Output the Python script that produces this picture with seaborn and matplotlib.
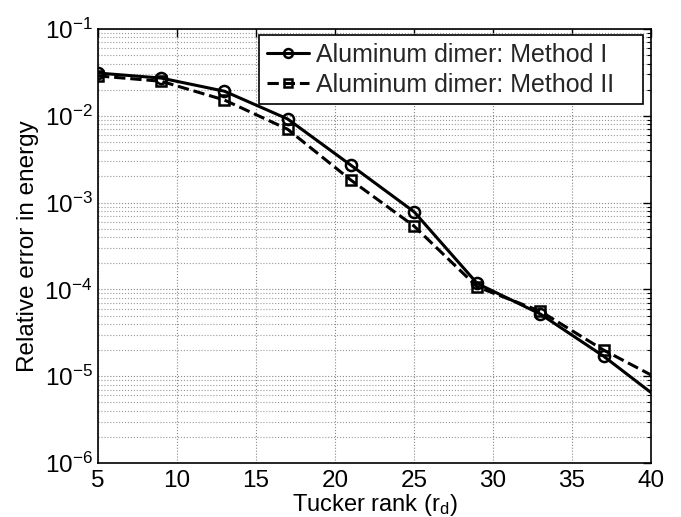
import numpy as np
import pandas as pd
import matplotlib
matplotlib.use("Agg")
import matplotlib.pyplot as plt
import matplotlib.ticker as mticker
import seaborn as sns

ranks = [5, 9, 13, 17, 21, 25, 29, 33, 37, 41]
method1 = [0.0311, 0.0272, 0.0192, 0.0092, 0.0027, 0.000785, 1.17e-4, 5.2e-5, 1.7e-5, 4.7e-6]
method2 = [0.0288, 0.0250, 0.0152, 0.0070, 0.00182, 0.000537, 1.07e-4, 5.6e-5, 2.0e-5, 8.3e-6]
labels = ["Aluminum dimer: Method I", "Aluminum dimer: Method II"]
xticks = [5, 10, 15, 20, 25, 30, 35, 40]
yticks = [1e-6, 1e-5, 1e-4, 1e-3, 1e-2, 1e-1]

sns.set_theme(style="white")
plt.rcParams['font.family'] = ['Liberation Sans', 'DejaVu Sans']
plt.rcParams['mathtext.fontset'] = 'custom'
plt.rcParams['mathtext.rm'] = 'Liberation Sans'
plt.rcParams['mathtext.it'] = 'Liberation Sans'
plt.rcParams['mathtext.default'] = 'regular'

df1 = pd.DataFrame({"rank": ranks, "err": method1})
df2 = pd.DataFrame({"rank": ranks, "err": method2})

fig = plt.figure(figsize=(6.81, 5.17), dpi=100)
ax = fig.add_axes([98/681, 1-463/517, (651-98)/681, (463-29)/517])

sns.lineplot(data=df1, x="rank", y="err", ax=ax, color="black", lw=2.2,
             marker="o", markersize=8, markerfacecolor="none",
             markeredgecolor="black", markeredgewidth=1.8, label=labels[0])
sns.lineplot(data=df2, x="rank", y="err", ax=ax, color="black", lw=2.2,
             marker="s", markersize=7, markerfacecolor="none",
             markeredgecolor="black", markeredgewidth=1.8,
             linestyle="--", dashes=(2.2, 1.6), label=labels[1])

ax.set_yscale("log")
ax.set_xlim(5, 40)
ax.set_ylim(1e-6, 1e-1)
ax.set_xticks(xticks)
ax.set_xticklabels([str(t) for t in xticks])
ax.set_yticks(yticks)
ax.set_yticklabels([r"$10^{%d}$" % int(np.log10(t)) for t in yticks])
ax.yaxis.set_minor_locator(mticker.LogLocator(base=10, subs=np.arange(2, 10), numticks=20))
ax.yaxis.set_minor_formatter(mticker.NullFormatter())

ax.tick_params(axis="both", which="both", direction="in", top=True, right=True,
               labelsize=17.5, colors="black")
ax.tick_params(axis="both", which="major", length=6, width=1)
ax.tick_params(axis="y", which="minor", length=3, width=0.8)
ax.tick_params(axis="x", pad=5)
ax.tick_params(axis="y", pad=4)

ax.grid(True, which="major", axis="both", linestyle=":", color="#888888", lw=0.8)
ax.grid(True, which="minor", axis="y", linestyle=":", color="#999999", lw=0.8)
for s in ax.spines.values():
    s.set_color("black")
    s.set_linewidth(1.2)

ax.set_xlabel(r"Tucker rank (r$_{d}$)", fontsize=17, labelpad=0, color="black")
ax.set_ylabel("Relative error in energy", fontsize=17.5, labelpad=4, color="black")

x0 = (259 - 98) / 553
w = (643 - 259) / 553
top = 1 - (35 - 29) / 434
leg = ax.legend(loc="upper left", fontsize=18, frameon=True, fancybox=False,
                edgecolor="black", framealpha=1, borderpad=0.3, handlelength=1.7,
                handletextpad=0.3, labelspacing=0.25, numpoints=1, borderaxespad=0,
                markerscale=0.8, mode="expand",
                bbox_to_anchor=(x0, top - 0.5, w, 0.5))
leg.get_frame().set_linewidth(1.2)

fig.savefig("out.png", dpi=100)
